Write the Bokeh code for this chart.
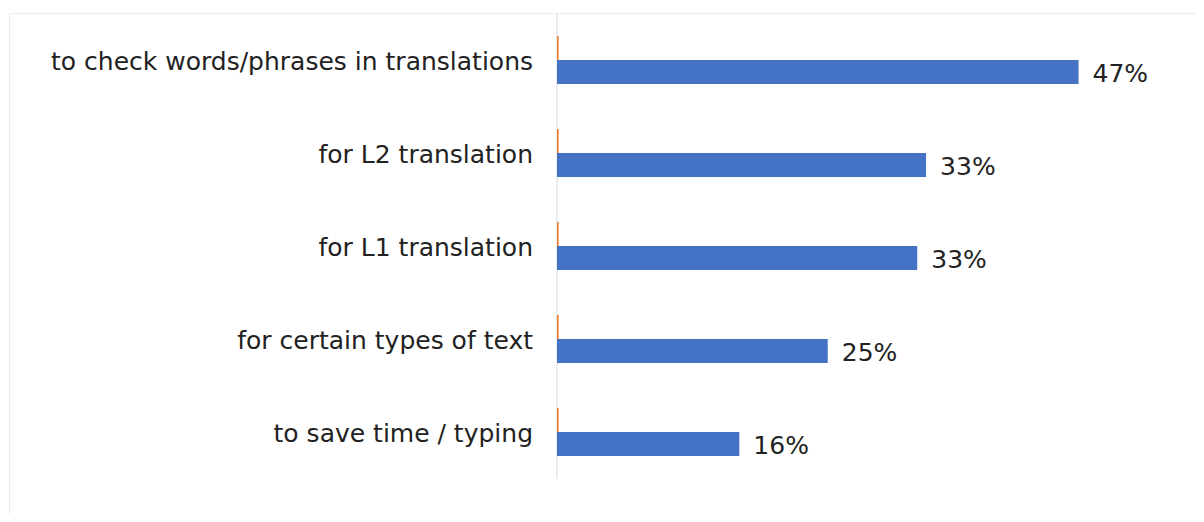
from bokeh.plotting import figure
from bokeh.models import Range1d, Span, ColumnDataSource
from bokeh.core.properties import value
from bokeh.embed import file_html
from bokeh.resources import INLINE

# ---- data ----
categories = [
    "to check words/phrases in translations",
    "for L2 translation",
    "for L1 translation",
    "for certain types of text",
    "to save time / typing",
]
blue_values = [47.2, 33.4, 32.6, 24.5, 16.5]
blue_labels = ["47%", "33%", "33%", "25%", "16%"]
orange_values = [0.15, 0.15, 0.15, 0.15, 0.15]

FONT = "DejaVu Sans"
BAR_H = 0.258

n = len(categories)
centers = [i + 0.5 for i in range(n)]

src = ColumnDataSource(dict(
    cat=categories,
    c=centers,
    blue=blue_values,
    orange=orange_values,
    lab=blue_labels,
    blue_y=[c + BAR_H / 2 for c in centers],
    orange_y=[c - BAR_H / 2 for c in centers],
    zero=[0] * n,
))

W, H = 1196, 514
LEFT, TOP = 9, 13
k = 11.05  # px per percent
frame_w = W - LEFT
frame_h = H - TOP
x_start = -(556.5 - LEFT) / k
x_end = x_start + frame_w / k

p = figure(
    width=W, height=H,
    output_backend="svg", toolbar_location=None,
    x_range=Range1d(x_start, x_end),
    y_range=Range1d(frame_h / 93.0, 0),
    min_border_left=LEFT, min_border_right=0,
    min_border_top=TOP, min_border_bottom=0,
)
p.xaxis.visible = False
p.yaxis.visible = False
p.xgrid.visible = False
p.ygrid.visible = False
p.outline_line_color = None
p.background_fill_color = "white"
p.border_fill_color = "white"

# outer chart border (top and left)
p.add_layout(Span(location=0, dimension="width", line_color="#d9d9d9", line_width=1))
p.add_layout(Span(location=x_start, dimension="height", line_color="#d9d9d9", line_width=1))

# category axis line
p.segment(x0=[0], y0=[0], x1=[0], y1=[n], line_color="#d9d9d9", line_width=1)

# bars
p.hbar(y="orange_y", left=0, right="orange", height=BAR_H, source=src,
       fill_color="#ED7D31", line_color=None)
p.hbar(y="blue_y", left=0, right="blue", height=BAR_H, source=src,
       fill_color="#4472C4", line_color=None)

# value labels
p.text(x="blue", y="blue_y", text="lab", source=src, x_offset=14, y_offset=2,
       text_font=value(FONT), text_font_size="25px", text_color="#222222",
       text_align="left", text_baseline="middle")

# category labels
p.text(x="zero", y="c", text="cat", source=src, x_offset=-24, y_offset=1,
       text_font=value(FONT), text_font_size="25px", text_color="#222222",
       text_align="right", text_baseline="middle")

open("out.html", "w").write(file_html(p, INLINE))
